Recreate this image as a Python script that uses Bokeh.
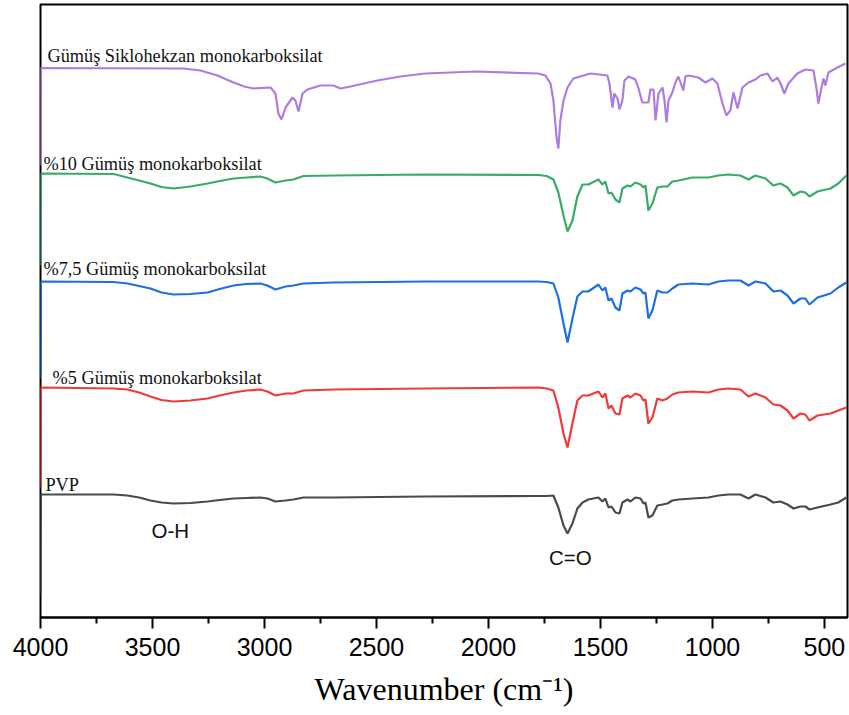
from bokeh.plotting import figure
from bokeh.models import Range1d, FixedTicker
from bokeh.core.properties import value
from bokeh.embed import file_html
from bokeh.resources import INLINE

# Shared wavenumber grid (cm-1) for the four similar spectra
wn = [4000, 3999, 3674, 3612, 3560, 3509, 3460, 3406, 3330, 3254, 3200, 3138, 3080, 3018,
      2987, 2951, 2906, 2871, 2826, 2692, 2281, 1777, 1740, 1710, 1688, 1665, 1647, 1625,
      1603, 1580, 1554, 1509, 1491, 1478, 1464, 1451, 1433, 1415, 1402, 1379, 1366, 1344,
      1321, 1308, 1299, 1286, 1268, 1246, 1223, 1201, 1179, 1152, 1089, 1018, 973, 929,
      875, 839, 808, 763, 728, 696, 665, 638, 607, 585, 567, 531, 473, 438, 402]

# Stacked signal (a.u., offset; larger = lower on the chart)
pvp = [593, 494, 494, 495, 497, 500, 502, 503, 502.5, 501, 499.5, 498, 497.5, 497,
       498, 501, 500, 499, 497, 497, 496, 495.5, 495.5, 495, 507, 525, 533, 523,
       508, 502, 499, 497, 501, 498, 507, 506, 512, 513, 502, 499, 501, 497,
       498, 503, 502, 517, 515, 505, 504, 503, 500, 499, 498, 497, 495, 494,
       494, 498, 494, 497, 502, 501, 504, 508, 506, 506, 509, 507, 504, 502, 497]

ag5 = [487, 387, 388, 389, 392, 396, 399.5, 401, 400, 398, 395, 392, 390, 389,
       391, 395, 393, 393, 390, 389, 388, 387, 388, 390, 407, 433, 447, 423,
       400, 395, 395, 391, 397, 393, 408, 405, 413, 414, 398, 395, 397, 393,
       395, 400, 399, 423, 417, 398, 400, 398, 394, 392, 391, 392, 389, 388,
       389, 396, 393, 397, 404, 405, 410, 418, 413, 414, 420, 415, 413, 410, 407]

ag75 = [378, 281, 281.5, 283, 285.5, 288, 292, 294, 293.5, 292, 288.5, 285, 283.5, 283,
        285, 289, 286, 285, 283, 282, 281, 281, 281.5, 283, 297, 323, 342, 318,
        296, 291, 291, 284, 290, 287, 300, 298, 307, 310, 293, 290, 291, 287,
        289, 293, 292, 318, 310, 290, 292, 292, 288, 284, 283, 284, 281, 280,
        280, 285, 281, 283, 291, 290, 295, 303, 298, 298, 304, 297, 293, 287, 282]

ag10 = [265, 173, 173.5, 177, 180, 183, 186.5, 188, 186, 183, 180.5, 178, 177, 176,
        178, 182, 180, 179, 175.5, 175, 174, 174.5, 175.5, 179, 192, 215, 231, 220,
        196, 184, 184, 179, 184, 181, 193, 192, 199, 202, 188, 185, 186, 182,
        184, 187, 185, 210, 203, 187, 186, 186, 181, 180, 177, 177, 175, 174,
        175, 179, 175, 178, 185, 183, 187, 195, 191, 192, 196, 191, 188, 183, 175]

# Silver cyclohexane monocarboxylate spectrum
wn_chc = [4000, 3999, 3362, 3286, 3210, 3138, 3090, 3049, 2973, 2951, 2938, 2924, 2906, 2875,
          2862, 2848, 2830, 2808, 2750, 2692, 2661, 2616, 2496, 2393, 2281, 2058, 1777, 1746,
          1723, 1710, 1696, 1688, 1679, 1665, 1647, 1621, 1545, 1469, 1460, 1446, 1438,
          1424, 1415, 1402, 1393, 1375, 1344, 1330, 1313, 1286, 1277, 1263, 1254, 1241,
          1223, 1214, 1205, 1196, 1179, 1165, 1152, 1130, 1121, 1107, 1063, 1031, 1000,
          978, 955, 938, 920, 906, 888, 866, 839, 808, 786, 754, 732, 710, 696, 679, 661,
          621, 585, 549, 536, 527, 513, 504, 496, 482, 442, 406]
chc = [165, 67.5, 68, 70, 75, 82, 86, 88, 87, 93, 113, 119, 107, 97,
       100, 111, 93, 89, 85, 85, 88, 86, 80, 76, 73, 71, 73, 75,
       83, 100, 137, 148, 120, 100, 87, 78, 73, 75, 83, 107, 93,
       98, 109, 100, 80, 76, 79, 88, 102, 102, 89, 89, 120, 93,
       87, 100, 122, 100, 92, 82, 76, 90, 76, 75, 77, 82, 78,
       83, 103, 115, 110, 92, 108, 87, 82, 79, 75, 73, 81, 77, 83, 93, 83,
       73, 69, 70, 87, 103, 87, 78, 85, 72, 67, 63]

series_names = ["Gümüş Siklohekzan monokarboksilat", "%10 Gümüş monokarboksilat",
                "%7,5 Gümüş monokarboksilat", "%5 Gümüş monokarboksilat", "PVP"]
series_colors = ["#B07BE0", "#3AAA6A", "#1E6FE0", "#F03A3A", "#4A4A4A"]
label_wn = [3969, 3987, 3987, 3946, 3978]
label_y = [55, 163, 268, 377, 484]

band_names = ["O-H", "C=O"]
band_wn = [3504, 1730]
band_y = [530, 557]

major_ticks = [4000, 3500, 3000, 2500, 2000, 1500, 1000, 500]
minor_ticks = [3750, 3250, 2750, 2250, 1750, 1250, 750]

p = figure(width=849, height=715, output_backend="svg", toolbar_location=None,
           x_range=Range1d(4000, 397), y_range=Range1d(617, 4),
           min_border_left=40, min_border_right=2, min_border_top=4, min_border_bottom=98)

p.line(wn_chc, chc, line_color=series_colors[0], line_width=2.2)
for ys, c in zip([ag10, ag75, ag5, pvp], series_colors[1:]):
    p.line(wn, ys, line_color=c, line_width=2.2)

p.text(x=label_wn, y=label_y, text=series_names, text_font=value("Liberation Serif"),
       text_font_size="18.3px", text_baseline="alphabetic", text_align="left", text_color="#111111")
p.text(x=band_wn, y=band_y, text=band_names, text_font=value("Liberation Sans"),
       text_font_size="20.5px", text_baseline="alphabetic", text_align="left", text_color="#111111")

p.grid.visible = False
p.yaxis.visible = False
p.outline_line_color = "black"
p.outline_line_width = 2
p.background_fill_color = "white"
p.border_fill_color = "white"

ax = p.xaxis[0]
ax.ticker = FixedTicker(ticks=major_ticks, minor_ticks=minor_ticks)
ax.axis_line_width = 2
ax.axis_line_color = "black"
ax.major_tick_line_width = 2
ax.minor_tick_line_width = 2
ax.major_tick_out = 11
ax.major_tick_in = 0
ax.minor_tick_out = 6
ax.minor_tick_in = 0
ax.major_label_text_font = "Liberation Sans"
ax.major_label_text_font_size = "25px"
ax.major_label_text_color = "black"
ax.major_label_standoff = 9
ax.axis_label = "Wavenumber (cm⁻¹)"
ax.axis_label_text_font = "Liberation Serif"
ax.axis_label_text_font_size = "32px"
ax.axis_label_text_font_style = "normal"
ax.axis_label_text_color = "black"
ax.axis_label_standoff = 12

open("out.html", "w").write(file_html(p, INLINE))
